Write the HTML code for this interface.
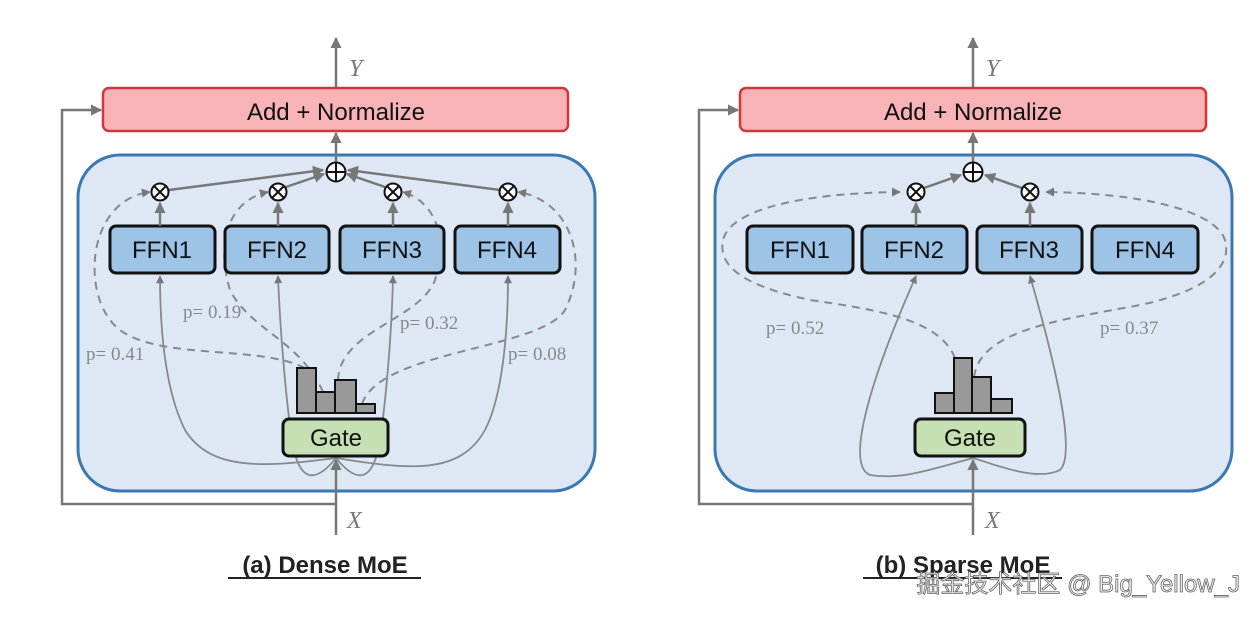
<!DOCTYPE html>
<html><head><meta charset="utf-8"><style>
html,body{margin:0;padding:0;background:#fff;width:1259px;height:617px;overflow:hidden}
svg{display:block}
.s{font-family:"Liberation Sans","DejaVu Sans",sans-serif}
.p{font-family:"Liberation Serif",serif;font-size:19px;fill:#888}
</style></head><body>
<svg width="1259" height="617" viewBox="0 0 1259 617" xmlns="http://www.w3.org/2000/svg">
<defs>
<marker id="a" viewBox="0 0 10 10" refX="9" refY="5" markerWidth="4.5" markerHeight="4.5" orient="auto"><path d="M0,0L10,5L0,10z" fill="#777"/></marker>
<marker id="d" viewBox="0 0 10 10" refX="9" refY="5" markerWidth="4.5" markerHeight="4.5" orient="auto"><path d="M0,0L10,5L0,10z" fill="#777"/></marker>
</defs>

<g id="L">
<!-- outer -->
<rect x="78" y="155" width="517" height="336" rx="42" fill="#dde8f4" stroke="#3a78b5" stroke-width="3"/>
<!-- residual -->
<path d="M336,504 H62 V110 H101" fill="none" stroke="#777" stroke-width="2.5" marker-end="url(#a)"/>
<!-- X in -->
<path d="M336,535 V460" fill="none" stroke="#777" stroke-width="2.5" marker-end="url(#a)"/>
<text x="347" y="528" font-family="Liberation Serif,serif" font-style="italic" font-size="24" fill="#777">X</text>
<!-- Y out -->
<path d="M336,88 V38" fill="none" stroke="#777" stroke-width="2.5" marker-end="url(#a)"/>
<text x="349" y="76" font-family="Liberation Serif,serif" font-style="italic" font-size="24" fill="#777">Y</text>
<path d="M336,162 V133" fill="none" stroke="#777" stroke-width="2.5" marker-end="url(#a)"/>
<!-- add norm -->
<rect x="103" y="88" width="465" height="43" rx="6" fill="#f8b3b6" stroke="#d2363a" stroke-width="2.5"/>
<text x="336" y="120" text-anchor="middle" class="s" font-size="24" fill="#111">Add + Normalize</text>
<!-- solid curves from gate -->
<g fill="none" stroke="#888" stroke-width="1.8" marker-end="url(#a)">
<path d="M336,458 C260,468 210,470 185,430 C165,390 160,330 160,276"/>
<path d="M336,458 C320,478 300,490 292,440 C286,400 280,330 278,276"/>
<path d="M336,458 C352,478 372,490 380,440 C386,400 392,330 393,276"/>
<path d="M336,458 C410,470 460,475 485,430 C503,395 508,330 508,276"/>
</g>
<!-- dashed -->
<g fill="none" stroke="#888" stroke-width="2" stroke-dasharray="8,6" marker-end="url(#d)">
<path d="M305,368 C260,345 160,360 120,330 C80,300 85,200 150,192"/>
<path d="M323,392 C300,340 250,330 230,290 C215,240 230,200 268,192"/>
<path d="M338,380 C340,330 420,320 435,280 C450,230 430,200 403,192"/>
<path d="M362,404 C380,350 540,350 565,310 C590,260 570,200 518,192"/>
</g>
<!-- ffns -->
<g stroke="#111" stroke-width="3" fill="#9dc3e6">
<rect x="110" y="226" width="105" height="47" rx="6"/>
<rect x="225" y="226" width="104" height="47" rx="6"/>
<rect x="340" y="226" width="104" height="47" rx="6"/>
<rect x="455" y="226" width="105" height="47" rx="6"/>
</g>
<g class="s" font-size="24" fill="#111" text-anchor="middle">
<text x="162" y="258">FFN1</text><text x="277" y="258">FFN2</text><text x="392" y="258">FFN3</text><text x="507" y="258">FFN4</text>
</g>
<!-- up arrows -->
<g stroke="#777" stroke-width="2.5" marker-end="url(#a)" fill="none">
<path d="M160,226 V203"/><path d="M278,226 V203"/><path d="M393,226 V203"/><path d="M508,226 V203"/>
<path d="M169,190 L323,170"/><path d="M286,187 L324,174"/><path d="M385,187 L347,174"/><path d="M500,190 L348,170"/>
</g>
<g fill="#fff" stroke="#111" stroke-width="2">
<circle cx="160" cy="192" r="8.5"/><circle cx="278" cy="192" r="8.5"/><circle cx="393" cy="192" r="8.5"/><circle cx="508" cy="192" r="8.5"/>
<circle cx="336" cy="172" r="9.5"/>
</g>
<g stroke="#111" stroke-width="2">
<path d="M154,186l12,12M166,186l-12,12M272,186l12,12M284,186l-12,12M387,186l12,12M399,186l-12,12M502,186l12,12M514,186l-12,12"/>
<path d="M326.5,172h19M336,162.5v19"/>
</g>
<!-- hist -->
<g fill="#999" stroke="#111" stroke-width="2">
<rect x="297" y="368" width="19" height="45"/><rect x="316" y="392" width="19" height="21"/><rect x="335" y="380" width="21" height="33"/><rect x="356" y="404" width="19" height="9"/>
</g>
<rect x="283" y="419" width="105" height="37" rx="6" fill="#c6e0b4" stroke="#111" stroke-width="3"/>
<text x="336" y="446" text-anchor="middle" class="s" font-size="24" fill="#111">Gate</text>
<text x="183" y="318" class="p">p= 0.19</text>
<text x="400" y="329" class="p">p= 0.32</text>
<text x="86" y="360" class="p">p= 0.41</text>
<text x="508" y="360" class="p">p= 0.08</text>
</g>

<!-- right -->
<rect x="715" y="155" width="517" height="336" rx="42" fill="#dde8f4" stroke="#3a78b5" stroke-width="3"/>
<path d="M973,504 H699 V110 H738" fill="none" stroke="#777" stroke-width="2.5" marker-end="url(#a)"/>
<path d="M973,535 V460" fill="none" stroke="#777" stroke-width="2.5" marker-end="url(#a)"/>
<text x="985" y="528" font-family="Liberation Serif,serif" font-style="italic" font-size="24" fill="#777">X</text>
<path d="M973,88 V38" fill="none" stroke="#777" stroke-width="2.5" marker-end="url(#a)"/>
<text x="986" y="76" font-family="Liberation Serif,serif" font-style="italic" font-size="24" fill="#777">Y</text>
<path d="M973,162 V133" fill="none" stroke="#777" stroke-width="2.5" marker-end="url(#a)"/>
<rect x="740" y="88" width="466" height="43" rx="6" fill="#f8b3b6" stroke="#d2363a" stroke-width="2.5"/>
<text x="973" y="120" text-anchor="middle" class="s" font-size="24" fill="#111">Add + Normalize</text>
<g fill="none" stroke="#888" stroke-width="1.8" marker-end="url(#a)">
<path d="M973,458 C930,470 900,480 870,475 C845,465 870,380 916,276"/>
<path d="M973,458 C1010,470 1040,480 1060,470 C1075,455 1060,380 1030,276"/>
</g>
<g fill="none" stroke="#888" stroke-width="2" stroke-dasharray="8,6">
<path d="M955,358 C940,320 880,310 810,300 C740,285 718,265 723,240 C730,210 800,193 900,192" marker-end="url(#d)"/>
<path d="M974,377 C980,330 1060,320 1140,305 C1210,290 1232,265 1225,240 C1215,210 1140,193 1046,192" marker-end="url(#d)"/>
</g>
<g stroke="#111" stroke-width="3" fill="#9dc3e6">
<rect x="747" y="226" width="106" height="47" rx="6"/>
<rect x="862" y="226" width="105" height="47" rx="6"/>
<rect x="977" y="226" width="105" height="47" rx="6"/>
<rect x="1092" y="226" width="106" height="47" rx="6"/>
</g>
<g class="s" font-size="24" fill="#111" text-anchor="middle">
<text x="800" y="258">FFN1</text><text x="914" y="258">FFN2</text><text x="1029" y="258">FFN3</text><text x="1145" y="258">FFN4</text>
</g>
<g stroke="#777" stroke-width="2.5" marker-end="url(#a)" fill="none">
<path d="M916,226 V203"/><path d="M1030,226 V203"/>
<path d="M924,188 L961,175"/><path d="M1022,188 L985,175"/>
</g>
<g fill="#fff" stroke="#111" stroke-width="2">
<circle cx="916" cy="192" r="8.5"/><circle cx="1030" cy="192" r="8.5"/><circle cx="973" cy="172" r="9.5"/>
</g>
<g stroke="#111" stroke-width="2">
<path d="M910,186l12,12M922,186l-12,12M1024,186l12,12M1036,186l-12,12"/>
<path d="M963.5,172h19M973,162.5v19"/>
</g>
<g fill="#999" stroke="#111" stroke-width="2">
<rect x="935" y="393" width="19" height="20"/><rect x="954" y="358" width="18" height="55"/><rect x="972" y="377" width="19" height="36"/><rect x="991" y="399" width="21" height="14"/>
</g>
<rect x="915" y="419" width="110" height="37" rx="6" fill="#c6e0b4" stroke="#111" stroke-width="3"/>
<text x="970" y="446" text-anchor="middle" class="s" font-size="24" fill="#111">Gate</text>
<text x="766" y="334" class="p">p= 0.52</text>
<text x="1100" y="334" class="p">p= 0.37</text>

<!-- captions -->
<text x="325" y="573" text-anchor="middle" class="s" font-size="24" font-weight="bold" fill="#222">(a) Dense MoE</text>
<path d="M228,578 H421" stroke="#222" stroke-width="2"/>
<text x="963" y="573" text-anchor="middle" class="s" font-size="24" font-weight="bold" fill="#222">(b) Sparse MoE</text>
<path d="M863,578 H1062" stroke="#222" stroke-width="2"/>
<text x="1240" y="592" text-anchor="end" font-family="Liberation Sans,'Noto Sans CJK SC',sans-serif" font-size="24" fill="#f2f2f2" stroke="#666" stroke-width="0.8">掘金技术社区 @ Big_Yellow_J</text>
</svg>
</body></html>
